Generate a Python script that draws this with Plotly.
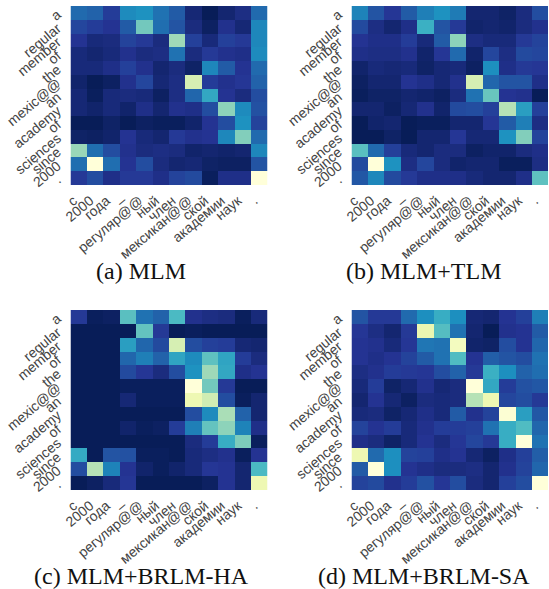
import plotly.graph_objects as go

src_tokens = ["a", "regular", "member", "of", "the", "mexic@@", "an", "academy", "of", "sciences", "since", "2000", "."]
tgt_tokens = ["с", "2000", "года", "–", "регуляр@@", "ный", "член", "мексикан@@", "ской", "академии", "наук", "."]
captions = ["(a) MLM", "(b) MLM+TLM", "(c) MLM+BRLM-HA", "(d) MLM+BRLM-SA"]

mlm = [
    [.28,.26,.15,.36,.38,.30,.24,.06,.00,.05,.09,.28],
    [.18,.15,.12,.24,.60,.29,.22,.08,.02,.11,.06,.35],
    [.12,.07,.08,.17,.14,.08,.68,.16,.07,.16,.14,.35],
    [.07,.05,.07,.11,.08,.09,.30,.08,.14,.11,.10,.36],
    [.07,.07,.10,.16,.11,.05,.08,.03,.35,.24,.12,.28],
    [.04,.00,.02,.11,.18,.06,.09,.80,.15,.11,.13,.26],
    [.06,.01,.07,.08,.07,.02,.09,.27,.45,.12,.08,.20],
    [.06,.04,.07,.04,.10,.05,.11,.10,.20,.65,.36,.21],
    [.00,.00,.03,.00,.02,.01,.01,.04,.12,.20,.38,.17],
    [.03,.02,.04,.12,.07,.05,.14,.11,.12,.35,.63,.28],
    [.67,.29,.20,.11,.08,.09,.08,.04,.05,.04,.05,.35],
    [.29,1.0,.29,.12,.20,.08,.05,.06,.03,.02,.02,.22],
    [.14,.20,.10,.14,.14,.10,.17,.19,.01,.10,.10,1.0],
]
mlm_tlm = [
    [.34,.22,.13,.24,.33,.38,.32,.05,.05,.03,.08,.20],
    [.19,.09,.05,.10,.48,.22,.14,.04,.05,.04,.08,.11],
    [.12,.10,.10,.15,.07,.24,.65,.09,.07,.07,.14,.17],
    [.10,.09,.09,.11,.04,.13,.28,.04,.18,.09,.19,.18],
    [.04,.07,.06,.07,.03,.06,.07,.02,.37,.10,.14,.13],
    [.02,.05,.05,.12,.10,.06,.11,.80,.27,.22,.22,.10],
    [.01,.03,.03,.05,.04,.02,.08,.30,.58,.12,.11,.00],
    [.05,.05,.02,.06,.11,.04,.19,.20,.16,.72,.42,.16],
    [.00,.04,.05,.00,.01,.01,.05,.05,.13,.24,.33,.09],
    [.00,.00,.03,.00,.05,.05,.13,.06,.06,.38,.63,.17],
    [.55,.28,.16,.07,.05,.08,.08,.02,.04,.04,.08,.10],
    [.19,1.0,.38,.09,.18,.08,.04,.05,.05,.01,.01,.09],
    [.23,.35,.19,.14,.10,.10,.10,.07,.05,.05,.10,.56],
]
mlm_ha = [
    [.14,.01,.02,.55,.30,.26,.52,.11,.09,.08,.01,.07],
    [.00,.00,.00,.00,.57,.14,.00,.01,.00,.00,.00,.00],
    [.00,.00,.00,.42,.27,.19,.80,.20,.16,.15,.06,.05],
    [.00,.00,.00,.27,.33,.26,.44,.36,.56,.44,.15,.08],
    [.00,.00,.00,.19,.13,.08,.20,.38,.68,.45,.10,.12],
    [.00,.00,.00,.01,.01,.01,.01,1.0,.60,.14,.00,.00],
    [.00,.00,.00,.06,.01,.01,.01,.88,.78,.20,.01,.05],
    [.00,.00,.00,.00,.00,.00,.00,.20,.36,.70,.26,.05],
    [.00,.00,.00,.04,.01,.02,.15,.33,.57,.65,.34,.10],
    [.00,.00,.00,.00,.00,.00,.00,.08,.15,.47,.62,.01],
    [.46,.00,.22,.21,.01,.01,.00,.07,.09,.11,.01,.12],
    [.20,.72,.34,.12,.04,.01,.04,.07,.13,.12,.05,.52],
    [.00,.02,.07,.13,.00,.00,.00,.00,.02,.12,.05,.88],
]
mlm_sa = [
    [.22,.14,.14,.28,.37,.47,.37,.06,.05,.12,.16,.33],
    [.13,.09,.05,.14,.87,.54,.30,.05,.00,.11,.12,.24],
    [.12,.11,.07,.13,.31,.30,.92,.04,.03,.20,.12,.27],
    [.12,.10,.12,.17,.24,.30,.53,.12,.25,.22,.20,.30],
    [.09,.11,.15,.14,.13,.20,.26,.14,.48,.37,.26,.29],
    [.07,.15,.03,.06,.11,.06,.08,1.0,.45,.15,.21,.23],
    [.05,.12,.06,.02,.08,.07,.08,.72,.88,.18,.20,.14],
    [.07,.08,.03,.06,.10,.07,.24,.11,.17,.98,.42,.23],
    [.17,.12,.15,.07,.11,.15,.15,.16,.30,.47,.53,.27],
    [.10,.08,.03,.07,.12,.08,.13,.18,.14,.47,1.0,.30],
    [.88,.28,.37,.17,.16,.10,.12,.06,.02,.10,.16,.25],
    [.24,1.0,.37,.12,.10,.08,.08,.09,.05,.11,.17,.27],
    [.17,.19,.11,.15,.21,.13,.20,.08,.05,.16,.20,1.0],
]
matrices = [mlm, mlm_tlm, mlm_ha, mlm_sa]

W, H = 549, 589
# pixel boxes of the four panels: left, right, top, bottom
boxes = [(70.5, 267.5, 6, 185), (351.5, 548, 6, 185), (70.5, 267.5, 310, 490), (351.5, 548, 310, 490)]
cap_pos = [(141, 271), (424, 271), (141, 576), (424, 576)]

fig = go.Figure()
xs = list(range(len(tgt_tokens)))
ys = list(range(len(src_tokens)))
tick_font = dict(family="Liberation Sans, Arial, sans-serif", size=14, color="#444")
for i, (z, box, cap, cp) in enumerate(zip(matrices, boxes, captions, cap_pos)):
    n = "" if i == 0 else str(i + 1)
    fig.add_trace(go.Heatmap(z=z, x=xs, y=ys, xaxis="x" + n, yaxis="y" + n,
                             colorscale="YlGnBu", reversescale=True, zmin=0, zmax=1, showscale=False))
    l, r, t, b = box
    fig.layout["xaxis" + n] = dict(domain=[l / W, r / W], anchor="y" + n, tickmode="array", tickvals=xs,
                                   ticktext=tgt_tokens, tickangle=-40, ticks="", showgrid=False, zeroline=False,
                                   tickfont=tick_font, range=[-0.5, 11.5], ticklabelshift=-5, ticklabelstandoff=4,
                                   automargin=False)
    fig.layout["yaxis" + n] = dict(domain=[1 - b / H, 1 - t / H], anchor="x" + n, tickmode="array", tickvals=ys,
                                   ticktext=src_tokens, tickangle=-40, ticks="", showgrid=False, zeroline=False,
                                   tickfont=tick_font, range=[12.5, -0.5], ticklabelstandoff=12, automargin=False)
    fig.add_annotation(text=cap, xref="paper", yref="paper", x=cp[0] / W, y=1 - cp[1] / H, showarrow=False,
                       xanchor="center", yanchor="middle",
                       font=dict(family="Liberation Serif, Times New Roman, serif", size=24, color="#111"))

fig.update_layout(width=W, height=H, margin=dict(l=0, r=0, t=0, b=0, autoexpand=False),
                  paper_bgcolor="white", plot_bgcolor="white")
fig.write_html("out.html", config={"displayModeBar": False},
               post_script="document.body.style.margin='0';var g=document.getElementById('{plot_id}');"
                           "g.style.position='absolute';g.style.left='0px';g.style.top='0px';")
